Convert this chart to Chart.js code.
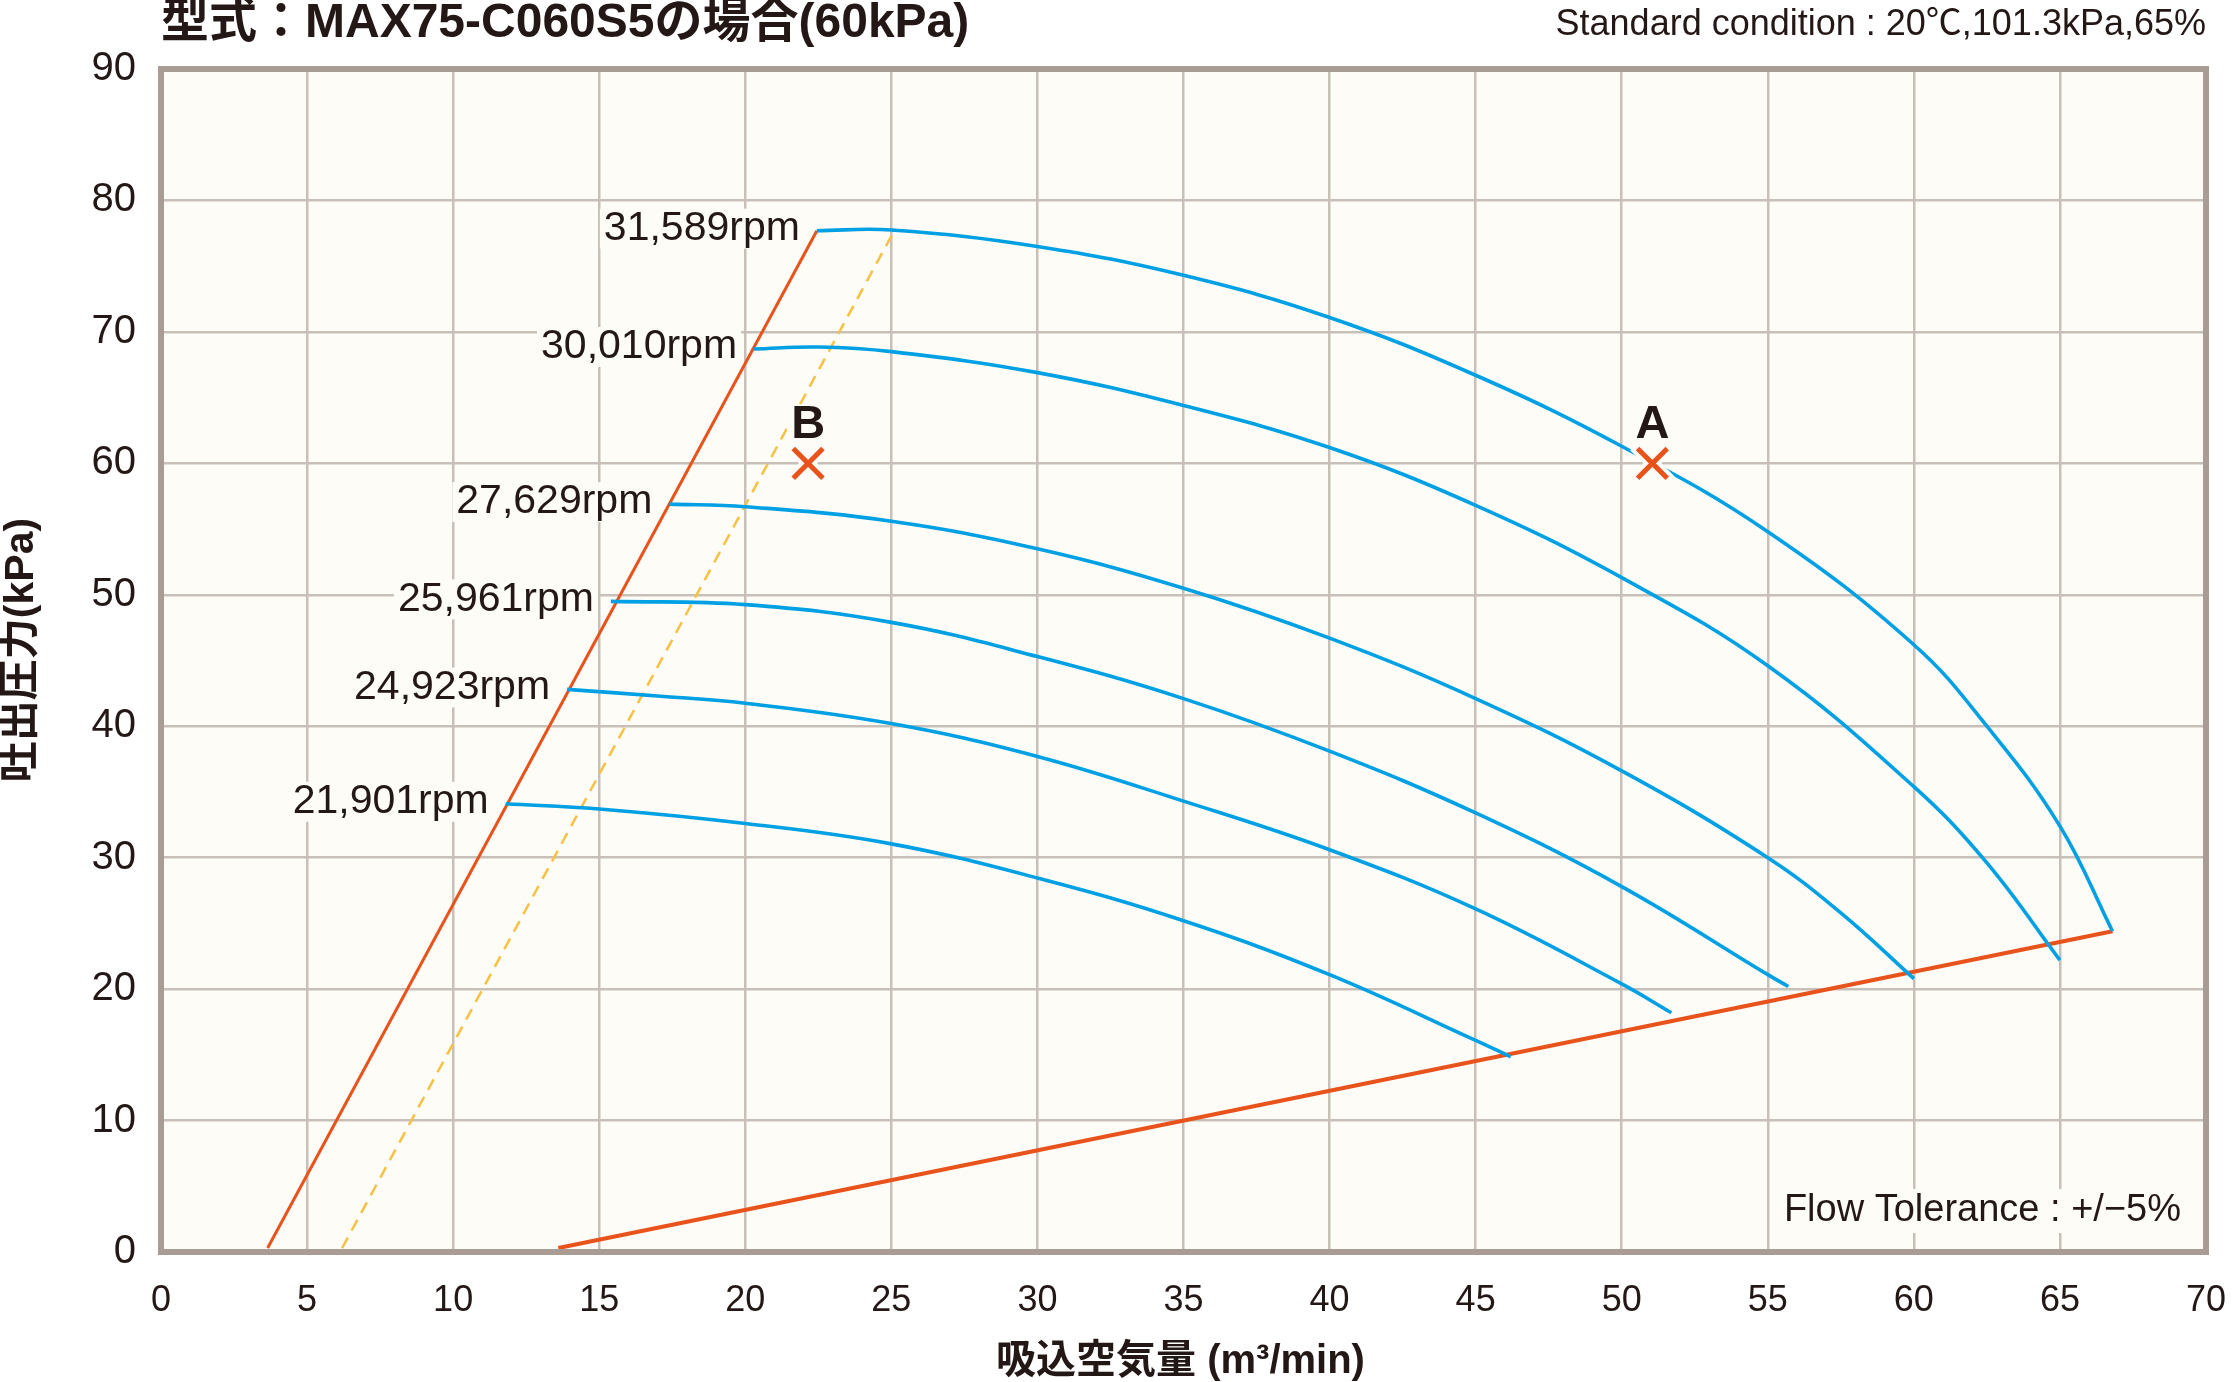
<!DOCTYPE html>
<html lang="ja">
<head>
<meta charset="utf-8">
<title>MAX75-C060S5 performance curve</title>
<script src="https://cdn.jsdelivr.net/npm/chart.js@4.4.1/dist/chart.umd.min.js"></script>
<style>
  html, body { margin: 0; padding: 0; background: #ffffff; }
  #perf-chart { display: block; }
</style>
</head>
<body>
<canvas id="perf-chart" width="2233" height="1382"></canvas>
<script>
// speed curves: [flow m3/min, pressure kPa]
const rpmLabels = ["31,589rpm", "30,010rpm", "27,629rpm", "25,961rpm", "24,923rpm", "21,901rpm"];

const curve31589 = [[22.45, 77.7], [25, 77.75], [30, 76.5], [35, 74.3], [40, 71.1], [45, 66.7], [50, 61.3],
  [55, 54.8], [60, 46.2], [62.5, 40.0], [65, 32.4], [66.8, 24.4]];
const curve30010 = [[20.3, 68.7], [22.5, 68.85], [25, 68.5], [30, 66.9], [35, 64.4], [40, 61.2], [45, 56.8],
  [50, 51.3], [55, 44.6], [60, 35.4], [62.5, 29.6], [65, 22.2]];
const curve27629 = [[17.4, 56.9], [20, 56.7], [25, 55.6], [30, 53.5], [35, 50.5], [40, 46.7], [45, 42.1],
  [50, 36.6], [55, 30.0], [57.5, 25.8], [60, 20.8]];
const curve25961 = [[15.4, 49.5], [20, 49.25], [25, 47.9], [30, 45.3], [35, 42.1], [40, 38.1], [45, 33.4],
  [50, 27.8], [55, 21.1], [55.7, 20.2]];
const curve24923 = [[13.9, 42.8], [17, 42.3], [20, 41.75], [25, 40.2], [30, 37.7], [35, 34.3], [40, 30.6],
  [45, 26.1], [50, 20.4], [51.7, 18.2]];
const curve21901 = [[11.8, 34.1], [15, 33.7], [20, 32.6], [25, 31.05], [30, 28.45], [35, 25.2], [40, 21.1],
  [45, 16.1], [46.2, 14.85]];

// boundary lines
const surgeLine = [[3.65, 0.3], [22.45, 77.7]];
const marginLine = [[6.2, 0.3], [25.1, 77.7]];
const limitLine = [[13.6, 0.3], [66.8, 24.4]];

// operating points
const pointNames = ["A", "B"];
const pointFlow = [51.05, 22.15];
const pointPressure = [60, 60];

const xTicks = [0, 70, 5];
const yTicks = [0, 90, 10];

const TEXT = "#231815";
const BLUE = "#00a0e4";
const ORANGE = "#e8531c";
const YELLOW = "#f7c143";
const PAPER = "#fdfcf7";
const GRID = "#c9bfb9";
const FRAME = "#a89c94";
const LATIN = "'Liberation Sans', 'Noto Sans CJK JP', sans-serif";

function ready(fn) {
  if (document.readyState !== "loading") {
    fn();
  } else {
    document.addEventListener("DOMContentLoaded", fn);
  }
}

ready(() => {
  setupPerformanceChart();
});

function toPoints(pairs) {
  return pairs.map(([x, y]) => ({ x, y }));
}

function knockoutText(ctx, text, x, y, align, height) {
  const w = ctx.measureText(text).width;
  const left = align === "right" ? x - w : align === "center" ? x - w / 2 : x;
  ctx.fillStyle = PAPER;
  ctx.fillRect(left - 4, y - height / 2, w + 8, height);
  ctx.fillStyle = TEXT;
  ctx.textAlign = align;
  ctx.textBaseline = "middle";
  ctx.fillText(text, x, y);
}

const chartDecor = {
  id: "chartDecor",
  beforeDraw(chart) {
    const { ctx, chartArea: a } = chart;
    ctx.save();
    ctx.fillStyle = "#ffffff";
    ctx.fillRect(0, 0, chart.width, chart.height);
    ctx.fillStyle = PAPER;
    ctx.fillRect(a.left, a.top, a.right - a.left, a.bottom - a.top);
    ctx.restore();
  },
  afterDatasetsDraw(chart) {
    const { ctx, chartArea: a, scales } = chart;
    const sx = scales.x;
    const sy = scales.y;
    ctx.save();

    // rpm labels at the start of each speed curve
    ctx.font = `41px ${LATIN}`;
    const curves = [curve31589, curve30010, curve27629, curve25961, curve24923, curve21901];
    curves.forEach((curve, i) => {
      const px = sx.getPixelForValue(curve[0][0]);
      const py = sy.getPixelForValue(curve[0][1]);
      knockoutText(ctx, rpmLabels[i], px - 17, py - 2, "right", 40);
    });

    // A / B labels
    ctx.font = `bold 47px ${LATIN}`;
    pointNames.forEach((name, i) => {
      const px = sx.getPixelForValue(pointFlow[i]);
      const py = sy.getPixelForValue(pointPressure[i]);
      knockoutText(ctx, name, px, py - 38, "center", 42);
    });

    // tolerance note
    ctx.font = `38px ${LATIN}`;
    knockoutText(ctx, "Flow Tolerance : +/\u22125%", a.right - 25, a.bottom - 41, "right", 44);

    // frame
    ctx.strokeStyle = FRAME;
    ctx.lineWidth = 6;
    ctx.strokeRect(a.left, a.top, a.right - a.left, a.bottom - a.top);
    ctx.restore();
  },
  afterDraw(chart) {
    const { ctx, chartArea: a } = chart;
    ctx.save();
    ctx.fillStyle = TEXT;
    ctx.textBaseline = "middle";

    ctx.font = `bold 48px ${LATIN}`;
    ctx.textAlign = "left";
    ctx.fillText("型式：MAX75-C060S5の場合(60kPa)", a.left, 24);

    ctx.font = `36px ${LATIN}`;
    ctx.textAlign = "right";
    ctx.fillText("Standard condition : 20\u2103,101.3kPa,65%", a.right, 25);

    ctx.font = `bold 40px ${LATIN}`;
    ctx.textAlign = "center";
    ctx.fillText("吸込空気量 (m\u00b3/min)", (a.left + a.right) / 2 - 3, 1362);

    ctx.font = `bold 41px ${LATIN}`;
    ctx.translate(22, 650);
    ctx.rotate(-Math.PI / 2);
    ctx.fillText("吐出圧力(kPa)", 0, 0);
    ctx.restore();
  },
};

function setupPerformanceChart() {
  const canvas = document.getElementById("perf-chart");
  if (!canvas || !window.Chart) return;

  const curves = [curve31589, curve30010, curve27629, curve25961, curve24923, curve21901];
  const curveSets = curves.map((curve, i) => ({
    label: rpmLabels[i],
    data: toPoints(curve),
    showLine: true,
    borderColor: BLUE,
    borderWidth: 3.6,
    pointRadius: 0,
    tension: 0.4,
    order: 2,
  }));

  const straight = (pairs, color, width, dash) => ({
    data: toPoints(pairs),
    showLine: true,
    borderColor: color,
    borderWidth: width,
    borderDash: dash || [],
    pointRadius: 0,
    tension: 0,
    order: 3,
  });

  const marks = pointNames.map((name, i) => ({ x: pointFlow[i], y: pointPressure[i] }));

  new Chart(canvas.getContext("2d"), {
    type: "scatter",
    data: {
      datasets: [
        {
          label: "points",
          data: marks,
          pointStyle: "crossRot",
          pointRadius: 21,
          pointBorderWidth: 5,
          pointBorderColor: ORANGE,
          showLine: false,
          order: 0,
        },
        {
          label: "knockout",
          data: marks,
          pointStyle: "crossRot",
          pointRadius: 25,
          pointBorderWidth: 13,
          pointBorderColor: PAPER,
          showLine: false,
          order: 1,
        },
        ...curveSets,
        straight(surgeLine, ORANGE, 3),
        straight(marginLine, YELLOW, 2.5, [12, 8]),
        straight(limitLine, ORANGE, 4),
      ],
    },
    options: {
      responsive: false,
      animation: false,
      devicePixelRatio: 1,
      layout: { autoPadding: false, padding: { top: 69, right: 27, bottom: 0, left: 0 } },
      scales: {
        x: {
          type: "linear",
          min: xTicks[0],
          max: xTicks[1],
          ticks: {
            stepSize: xTicks[2],
            padding: 27,
            color: TEXT,
            font: { family: LATIN, size: 36 },
            maxRotation: 0,
            autoSkip: false,
          },
          grid: { color: GRID, lineWidth: 2.5, drawTicks: false },
          border: { display: false },
          afterFit: (scale) => {
            scale.height = 130;
            scale.paddingLeft = 0;
            scale.paddingRight = 0;
          },
        },
        y: {
          type: "linear",
          min: yTicks[0],
          max: yTicks[1],
          ticks: {
            stepSize: yTicks[2],
            padding: 25,
            color: TEXT,
            font: { family: LATIN, size: 40 },
            autoSkip: false,
          },
          grid: { color: GRID, lineWidth: 2.5, drawTicks: false },
          border: { display: false },
          afterFit: (scale) => {
            scale.width = 161;
            scale.paddingTop = 0;
            scale.paddingBottom = 0;
          },
        },
      },
      plugins: {
        legend: { display: false },
        tooltip: { enabled: false },
      },
    },
    plugins: [chartDecor],
  });
}
</script>
</body>
</html>
